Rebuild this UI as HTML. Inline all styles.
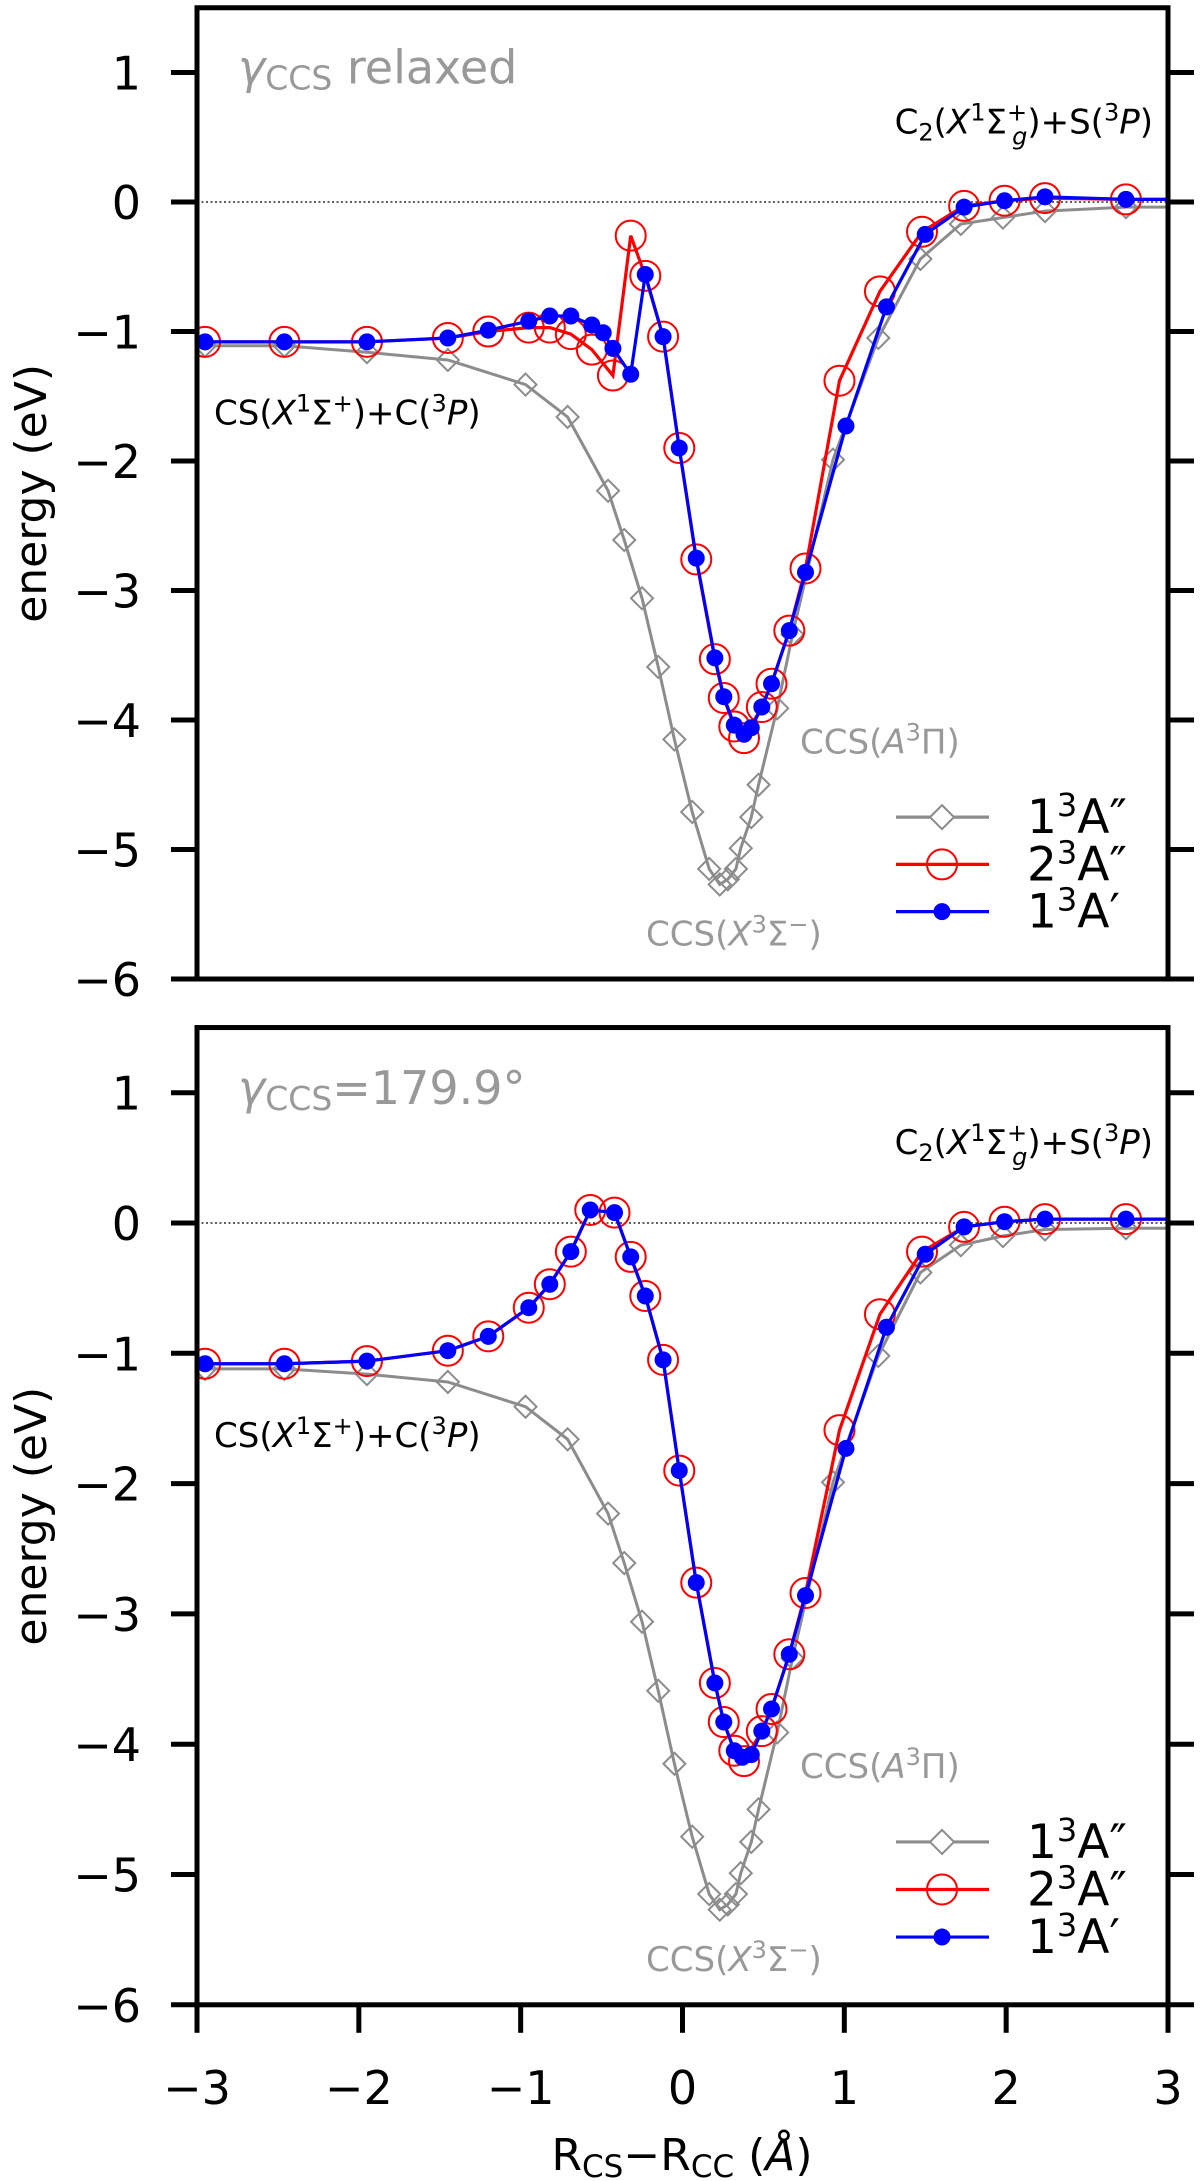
<!DOCTYPE html>
<html><head><meta charset="utf-8"><style>
html,body{margin:0;padding:0;background:#fff;}
svg{display:block;font-family:"DejaVu Sans","Liberation Sans",sans-serif;}
</style></head><body>
<svg id="fig" width="1200" height="2181" viewBox="0 0 1200 2181" xmlns="http://www.w3.org/2000/svg"></svg>
<script>
// ---- data ----
const grayX = [-3.5,-2.95,-2.46,-1.95,-1.45,-0.97,-0.71,-0.46,-0.36,-0.25,-0.15,-0.05,0.06,0.165,0.23,0.28,0.33,0.36,0.425,0.47,0.585,0.68,0.93,1.21,1.47,1.72,1.98,2.24,2.74,3.5];
const grayTop = [-1.11,-1.11,-1.11,-1.16,-1.22,-1.41,-1.66,-2.23,-2.61,-3.06,-3.59,-4.15,-4.71,-5.15,-5.27,-5.23,-5.15,-4.99,-4.75,-4.50,-3.91,-3.34,-1.99,-1.05,-0.44,-0.17,-0.12,-0.07,-0.04,-0.04];
const grayBot = [-1.12,-1.12,-1.12,-1.16,-1.22,-1.41,-1.66,-2.23,-2.61,-3.06,-3.59,-4.15,-4.71,-5.15,-5.27,-5.23,-5.15,-4.99,-4.75,-4.50,-3.91,-3.34,-1.99,-1.02,-0.38,-0.17,-0.10,-0.05,-0.04,-0.04];
const redXTop = [-3.5,-2.95,-2.46,-1.95,-1.45,-1.20,-0.95,-0.82,-0.69,-0.56,-0.43,-0.32,-0.23,-0.12,-0.02,0.085,0.20,0.255,0.32,0.38,0.49,0.55,0.66,0.76,0.97,1.22,1.48,1.74,1.99,2.24,2.74,3.5];
const redTop = [-1.08,-1.08,-1.08,-1.08,-1.05,-1.00,-0.97,-0.97,-1.02,-1.14,-1.34,-0.26,-0.57,-1.04,-1.90,-2.76,-3.53,-3.83,-4.05,-4.14,-3.90,-3.72,-3.31,-2.83,-1.38,-0.69,-0.23,-0.03,0.01,0.03,0.02,0.02];
const blueXTop = [-3.5,-2.95,-2.46,-1.95,-1.45,-1.20,-0.95,-0.82,-0.69,-0.56,-0.49,-0.43,-0.32,-0.23,-0.12,-0.02,0.085,0.20,0.255,0.32,0.38,0.425,0.49,0.55,0.66,0.76,1.01,1.26,1.50,1.74,1.99,2.24,2.74,3.5];
const blueTop = [-1.08,-1.08,-1.08,-1.08,-1.05,-0.99,-0.92,-0.88,-0.88,-0.95,-1.01,-1.13,-1.33,-0.56,-1.04,-1.90,-2.75,-3.52,-3.82,-4.04,-4.11,-4.06,-3.90,-3.72,-3.31,-2.86,-1.73,-0.81,-0.25,-0.04,0.01,0.04,0.02,0.02];
const redXBot = [-3.5,-2.95,-2.46,-1.95,-1.45,-1.20,-0.95,-0.82,-0.69,-0.57,-0.42,-0.32,-0.23,-0.12,-0.02,0.085,0.20,0.255,0.32,0.38,0.49,0.55,0.66,0.76,0.97,1.22,1.48,1.74,1.99,2.24,2.74,3.5];
const redBot = [-1.08,-1.08,-1.08,-1.06,-0.98,-0.87,-0.65,-0.47,-0.22,0.10,0.08,-0.26,-0.56,-1.05,-1.90,-2.76,-3.53,-3.83,-4.05,-4.13,-3.90,-3.73,-3.31,-2.84,-1.59,-0.70,-0.22,-0.03,0.01,0.03,0.03,0.03];
const blueXBot = [-3.5,-2.95,-2.46,-1.95,-1.45,-1.20,-0.95,-0.82,-0.69,-0.57,-0.42,-0.32,-0.23,-0.12,-0.02,0.085,0.20,0.255,0.32,0.37,0.425,0.49,0.55,0.66,0.76,1.01,1.26,1.50,1.74,1.99,2.24,2.74,3.5];
const blueBot = [-1.08,-1.08,-1.08,-1.06,-0.98,-0.87,-0.65,-0.47,-0.22,0.10,0.08,-0.26,-0.56,-1.05,-1.90,-2.76,-3.53,-3.83,-4.05,-4.10,-4.08,-3.90,-3.73,-3.31,-2.86,-1.73,-0.80,-0.24,-0.03,0.01,0.03,0.03,0.03];
const yTicks = [1,0,-1,-2,-3,-4,-5,-6];
const yTickLabels = ["1","0","\u22121","\u22122","\u22123","\u22124","\u22125","\u22126"];
const xTicks = [-3,-2,-1,0,1,2,3];
const xTickLabels = ["\u22123","\u22122","\u22121","0","1","2","3"];

const NS="http://www.w3.org/2000/svg";
const svg=document.getElementById('fig');
const L=197,R=1168;
function sx(x){return L+(x+3)/6*(R-L);}
function mk(tag,attrs,parent){const e=document.createElementNS(NS,tag);for(const k in attrs)e.setAttribute(k,attrs[k]);(parent||svg).appendChild(e);return e;}

const panels=[
 {name:'top',y0:202,u:129.5,gx:grayX,gy:grayTop,rx:redXTop,ry:redTop,bx:blueXTop,by:blueTop,title:'relaxed',xt:false},
 {name:'bottom',y0:1223,u:130.3,gx:grayX,gy:grayBot,rx:redXBot,ry:redBot,bx:blueXBot,by:blueBot,title:'=179.9\u00b0',xt:true}
];
panels.forEach((p,pi)=>{
  const sy=v=>p.y0-v*p.u;
  const top=sy(1.5),bot=sy(-6);
  const g=mk('g',{});
  
  
  const cid='clip'+pi;
  const cp=mk('clipPath',{id:cid},g);mk('rect',{x:L,y:top,width:R-L,height:bot-top},cp);
  const zl=mk('line',{x1:L,x2:R,y1:sy(0),y2:sy(0),stroke:'#000','stroke-width':1.3,'stroke-dasharray':'2,2.5'},g);
  
  
  const cg=mk('g',{'clip-path':'url(#'+cid+')'},g);
  function pts(xs,ys){return xs.map((x,i)=>sx(x)+','+sy(ys[i])).join(' ');}
  const gl=mk('polyline',{points:pts(p.gx,p.gy),fill:'none',stroke:'#8c8c8c','stroke-width':3},cg);
  
  
  p.gx.forEach((x,i)=>{const cx=sx(x),cy=sy(p.gy[i]);
    const d=mk('polygon',{points:`${cx},${cy-11} ${cx+11},${cy} ${cx},${cy+11} ${cx-11},${cy}`,fill:'none',stroke:'#8c8c8c','stroke-width':2},cg);
    
    });
  const rl=mk('polyline',{points:pts(p.rx,p.ry),fill:'none',stroke:'#ff0000','stroke-width':3.2},cg);
  
  
  p.rx.forEach((x,i)=>{
    const c=mk('circle',{cx:sx(x),cy:sy(p.ry[i]),r:15,fill:'none',stroke:'#ff0000','stroke-width':2},cg);
    
    });
  const bl=mk('polyline',{points:pts(p.bx,p.by),fill:'none',stroke:'#0000ff','stroke-width':3.2},cg);
  
  
  p.bx.forEach((x,i)=>{
    const c=mk('circle',{cx:sx(x),cy:sy(p.by[i]),r:8.5,fill:'#0000ff'},cg);
    
    });
  const fr=mk('rect',{x:L,y:top,width:R-L,height:bot-top,fill:'none',stroke:'#000','stroke-width':5},g);
  
  
  yTicks.forEach((v,i)=>{
    mk('line',{x1:L-26,x2:L,y1:sy(v),y2:sy(v),stroke:'#000','stroke-width':5},g);
    mk('line',{x1:R,x2:R+26,y1:sy(v),y2:sy(v),stroke:'#000','stroke-width':5},g);
    const t=mk('text',{x:141,y:sy(v)+17,'text-anchor':'end','font-size':46},g);
    t.textContent=yTickLabels[i];
    
    
  });
  if(p.xt){xTicks.forEach((v,i)=>{
    mk('line',{x1:sx(v),x2:sx(v),y1:bot,y2:bot+28,stroke:'#000','stroke-width':5},g);
    const t=mk('text',{x:sx(v),y:2104,'text-anchor':'middle','font-size':46},g);
    t.textContent=xTickLabels[i];
    
    
  });}
  const yl=mk('text',{x:0,y:0,transform:`translate(46,${(top+bot)/2}) rotate(-90)`,'text-anchor':'middle','font-size':44},g);
  yl.textContent='energy (eV)';
  
  
  const tt=mk('text',{x:238,y:sy(0.915),'font-size':46,fill:'#999'},g);
  tt.innerHTML='<tspan font-style="italic">γ</tspan><tspan font-size="33" dy="6">CCS</tspan><tspan dy="-6">'+(p.title==='relaxed'?' relaxed':p.title)+'</tspan>';
  
  
  const a1=mk('text',{x:1153,y:sy(0.53),'text-anchor':'end','font-size':34},g);
  a1.innerHTML='C<tspan font-size="24" dy="7">2</tspan><tspan dy="-7">(</tspan><tspan font-style="italic">X</tspan><tspan font-size="24" dy="-13">1</tspan><tspan dy="13">Σ</tspan><tspan font-size="24" dy="-13">+</tspan><tspan font-size="24" dx="-15" dy="24" font-style="italic">g</tspan><tspan dy="-11">)+S(</tspan><tspan font-size="24" dy="-13">3</tspan><tspan font-style="italic" dy="13">P</tspan>)';
  
  
  const a2=mk('text',{x:214,y:sy(-1.72),'font-size':34},g);
  a2.innerHTML='CS(<tspan font-style="italic">X</tspan><tspan font-size="24" dy="-13">1</tspan><tspan dy="13">Σ</tspan><tspan font-size="24" dy="-13">+</tspan><tspan dy="13">)+C(</tspan><tspan font-size="24" dy="-13">3</tspan><tspan font-style="italic" dy="13">P</tspan>)';
  
  
  const a3=mk('text',{x:800,y:sy(-4.26),'font-size':34,fill:'#999'},g);
  a3.innerHTML='CCS(<tspan font-style="italic">A</tspan><tspan font-size="24" dy="-13">3</tspan><tspan dy="13">Π)</tspan>';
  
  
  const a4=mk('text',{x:646,y:sy(-5.74),'font-size':34,fill:'#999'},g);
  a4.innerHTML='CCS(<tspan font-style="italic">X</tspan><tspan font-size="24" dy="-13">3</tspan><tspan dy="13">Σ</tspan><tspan font-size="24" dy="-13">−</tspan><tspan dy="13">)</tspan>';
  
  
  const lg=mk('g',{},g);
  
  
  const rows=[-4.75,-5.115,-5.48];
  const cols=['#8c8c8c','#ff0000','#0000ff'];
  const labs=['1<tspan font-size="32" dy="-17">3</tspan><tspan dy="17">A″</tspan>','2<tspan font-size="32" dy="-17">3</tspan><tspan dy="17">A″</tspan>','1<tspan font-size="32" dy="-17">3</tspan><tspan dy="17">A′</tspan>'];
  rows.forEach((rv,i)=>{const y=sy(rv);
    const e=mk('g',{},lg);
    
    
    mk('line',{x1:896,x2:989,y1:y,y2:y,stroke:cols[i],'stroke-width':3.2},e);
    if(i===0)mk('polygon',{points:`942,${y-12} 954,${y} 942,${y+12} 930,${y}`,fill:'#fff',stroke:cols[0],'stroke-width':2},e);
    if(i===1)mk('circle',{cx:942,cy:y,r:15,fill:'none',stroke:cols[1],'stroke-width':2},e);
    if(i===2)mk('circle',{cx:942,cy:y,r:8.5,fill:cols[2]},e);
    const t=mk('text',{x:1027,y:y+16,'font-size':47},e);t.innerHTML=labs[i];
  });
});
const xl=mk('text',{x:682,y:2170,'text-anchor':'middle','font-size':44});
xl.innerHTML='R<tspan font-size="31" dy="7">CS</tspan><tspan dy="-7">−R</tspan><tspan font-size="31" dy="7">CC</tspan><tspan dy="-7"> (</tspan><tspan font-style="italic">Å</tspan>)';


</script>
</body></html>
